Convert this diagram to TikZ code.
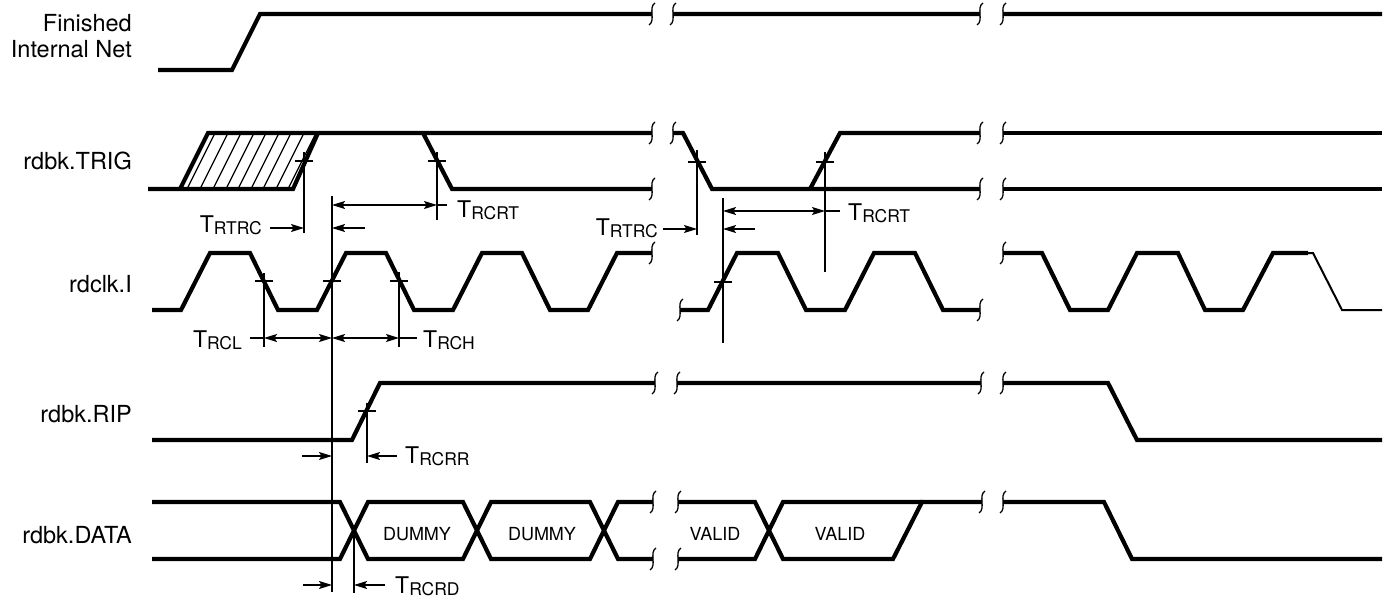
\documentclass[tikz,border=0pt]{standalone}
\usepackage{fontspec}
\setmainfont{TeX Gyre Heros}
\usetikzlibrary{arrows.meta,positioning,calc}
\newcommand{\tsub}[1]{T\raisebox{-2.5pt}{\fontsize{17.5}{18}\selectfont #1}}
\tikzset{brk/.pic={\draw[guide] (3,-11) .. controls (-4,-7) and (4,7) .. (-3,11);}}

\begin{document}
\begin{tikzpicture}
[x=1pt,y=-1pt,
sig/.style={line width=4.2pt},
guide/.style={line width=1.3pt},
>={Stealth[length=13pt,width=8pt,inset=2.5pt]},
lab/.style={anchor=base east,inner sep=0pt,font=\fontsize{23.5}{26}\selectfont},
tl/.style={inner sep=0pt,font=\fontsize{23}{26}\selectfont},
box/.style={anchor=base,inner sep=0pt,font=\fontsize{18}{20}\selectfont}]
\useasboundingbox (0,0) rectangle (1385,597);
\node[lab] (finA) at (132,31) {Finished};
\node[lab] (finB) at (132,57) {Internal Net};
\node[lab] (trig) at (132,169) {rdbk.TRIG};
\node[lab] (clk) at (132,292) {rdclk.I};
\node[lab] (rip) at (132,422) {rdbk.RIP};
\node[lab] (data) at (132,543) {rdbk.DATA};
% waveforms
\draw[sig] (158,70) -- (232,70) -- (260,14) -- (652,14) (673,14) -- (980,14) (1003,14) -- (1382,14);
\draw[sig] (148,189) -- (293,189) -- (318,133) (180,189) -- (208,133) -- (652,133) (423,133) -- (452,189) -- (652,189);
\draw[sig] (673,133) -- (683,133) -- (712,189) -- (980,189) (810,189) -- (840,133) -- (980,133);
\draw[sig] (1003,133) -- (1382,133) (1003,189) -- (1382,189);
\foreach \x in {187,200,213,226,238,251,263,276,288}
  \draw[guide] (\x,189) -- ++(28,-56);
\draw[sig] (152,310) foreach \x in {181,317,453} {-- (\x,310) -- ++(29,-57) -- ++(40,0) -- ++(28,57)} -- (588,310) -- (617,253) -- (652,253);
\draw[sig] (680,310) foreach \x in {708,845} {-- (\x,310) -- ++(29,-57) -- ++(41,0) -- ++(28,57)} -- (980,310);
\draw[sig] (1003,253) -- (1042,253) -- (1070,310) -- (1108,310) -- (1137,253) -- (1178,253) -- (1205,310) -- (1243,310) -- (1273,253) -- (1308,253);
\draw[line width=2pt] (1308,253) -- (1313,253) -- (1342,310) -- (1382,310);
\draw[sig] (152,440) -- (352,440) -- (380,383) -- (655,383) (677,383) -- (981,383) (1003,383) -- (1108,383) -- (1137,440) -- (1382,440);
\draw[sig] (152,502) -- (340,502) -- (368,559) -- (463,559) -- (491,502) -- (590,502) -- (618,559) -- (653,559);
\draw[sig] (152,559) -- (340,559) -- (368,502) -- (463,502) -- (491,559) -- (590,559) -- (618,502) -- (653,502);
\draw[sig] (678,502) -- (755,502) -- (783,559) -- (893,559) -- (922,502) -- (982,502);
\draw[sig] (678,559) -- (755,559) -- (783,502) -- (922,502);
\draw[sig] (1003,502) -- (1104,502) -- (1132,559) -- (1382,559);
\foreach \p in {(652,14),(673,14),(980,14),(1003,14),(652,133),(652,189),(673,133),(980,133),(980,189),(1003,133),(1003,189),(652,253),(680,310),(980,310),(1003,253),(655,383),(677,383),(981,383),(1003,383),(653,502),(653,559),(678,502),(678,559),(982,502),(1003,502)}
  \pic at \p {brk};
\node[box] (dum1) at (417,540) {DUMMY};
\node[box] (dum2) at (542,540) {DUMMY};
\node[box] (val1) at (715,540) {VALID};
\node[box] (val2) at (840,540) {VALID};
% timing marks
\coordinate (trigR) at (304,161);
\coordinate (clkR) at (332,281);
\coordinate (trigF) at (437,161);
\coordinate (clkF1) at (264,281);
\coordinate (clkF2) at (399,281);
\coordinate (ripR) at (367,411);
\coordinate (dataX) at (354,530);
\coordinate (trigF2) at (697,162);
\coordinate (clkR2) at (723,282);
\coordinate (trigR2) at (825,162);
\foreach \m in {trigR,clkR,trigF,clkF1,clkF2,ripR,trigF2,clkR2,trigR2}
  \draw[guide] ([xshift=-9pt]\m) -- ([xshift=9pt]\m);
\foreach \m/\a/\b in {trigR/152/233,clkR/196/592,trigF/152/220,clkF1/273/347,clkF2/272/347,ripR/403/463,dataX/530/593,trigF2/150/235,clkR2/198/343,trigR2/152/272}
  \draw[guide] (\m |- 0,\a) -- (\m |- 0,\b);
% dimensions
\draw[guide,<-] (trigR |- 0,228) -- ++(-34,0);
\draw[guide,<-] (clkR |- 0,228) -- ++(33,0);
\draw[guide,<->] (clkR |- 0,205) -- (trigF |- 0,205);
\draw[guide] (trigF |- 0,205) -- ++(10,0);
\draw[guide] (clkF1 |- 0,338) -- ++(-14,0);
\draw[guide,<->] (clkF1 |- 0,338) -- (clkR |- 0,338);
\draw[guide,<->] (clkR |- 0,338) -- (clkF2 |- 0,338);
\draw[guide] (clkF2 |- 0,338) -- ++(18,0);
\draw[guide,<-] (clkR |- 0,456) -- ++(-30,0);
\draw[guide,<-] (ripR |- 0,456) -- ++(30,0);
\draw[guide,<-] (clkR |- 0,585) -- ++(-29,0);
\draw[guide,<-] (dataX |- 0,585) -- ++(31,0);
\draw[guide,<-] (trigF2 |- 0,229) -- ++(-34,0);
\draw[guide,<-] (clkR2 |- 0,229) -- ++(32,0);
\draw[guide,<->] (clkR2 |- 0,211) -- (trigR2 |- 0,211);
\draw[guide] (trigR2 |- 0,211) -- ++(15,0);
\node[tl,anchor=base east] (rtrcA) at (262,232) {\tsub{RTRC}};
\node[tl,anchor=base west] (rcrtA) at (457,217) {\tsub{RCRT}};
\node[tl,anchor=base east] (rcl) at (242,347) {\tsub{RCL}};
\node[tl,anchor=base west] (rch) at (423,347) {\tsub{RCH}};
\node[tl,anchor=base west] (rcrr) at (405,463) {\tsub{RCRR}};
\node[tl,anchor=base west] (rcrd) at (395,593) {\tsub{RCRD}};
\node[tl,anchor=base east] (rtrcB) at (658,235) {\tsub{RTRC}};
\node[tl,anchor=base west] (rcrtB) at (848,220) {\tsub{RCRT}};
\end{tikzpicture}
\end{document}
